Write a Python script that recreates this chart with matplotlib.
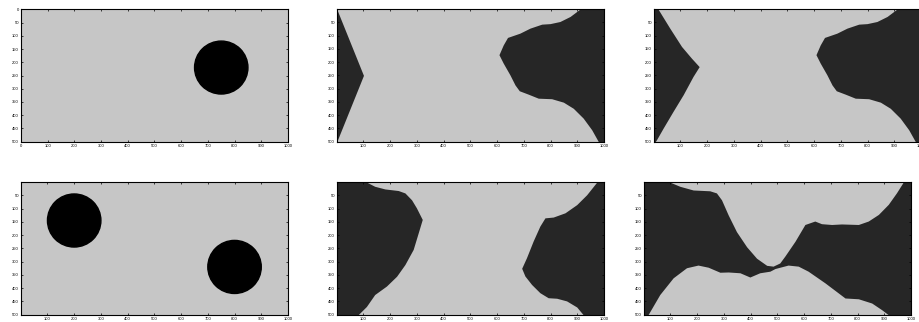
import numpy as np
import matplotlib.pyplot as plt
from matplotlib.patches import Circle

light = '#c6c6c6'
dark = '#262626'

# obstacles (workspace), circles: centre x, centre y, radius
ws1_cx = [750]
ws1_cy = [220]
ws1_r = [100]
ws2_cx = [200, 800]
ws2_cy = [145, 320]
ws2_r = [100, 100]

# panel 2: left wedge and right blob (x as function of y)
p2_left_y = [0, 250, 500]
p2_left_x = [0, 100, 0]
right_y = [0, 28, 47, 55, 57, 72, 91, 107, 135, 172, 204, 248, 286, 308,
           321, 336, 338, 351, 374, 411, 455, 500]
right_x = [910, 873, 835, 798, 767, 723, 685, 639, 623, 607, 623, 648, 667,
           683, 717, 754, 804, 848, 885, 922, 954, 979]

# panel 3: curved left wedge
p3_left_y = [0, 72, 141, 185, 217, 254, 323, 386, 449, 493, 500]
p3_left_x = [16, 60, 104, 141, 170, 147, 110, 72, 35, 10, 5]

# panel 5
p5_left_y = [0, 16, 26, 32, 41, 67, 97, 141, 191, 254, 311, 355, 392, 424,
             469, 500]
p5_left_x = [111, 142, 180, 230, 255, 280, 298, 320, 305, 286, 255, 224,
             186, 142, 111, 80]
p5_right_y = [0, 48, 85, 116, 132, 135, 166, 222, 285, 325, 354, 386, 417,
              436, 438, 448, 471, 500]
p5_right_x = [973, 935, 898, 854, 810, 779, 760, 735, 710, 692, 704, 729,
              760, 791, 823, 860, 898, 922]

# panel 6: free (light) regions, y as function of x
p6_up_x = [97, 135, 185, 247, 272, 291, 316, 347, 385, 422, 460, 484, 509,
           528, 566, 603, 640, 665, 703, 740, 803, 840, 878, 915, 946, 971]
p6_up_y = [0, 16, 30, 33, 41, 67, 124, 187, 244, 287, 314, 317, 305, 279,
           223, 160, 147, 157, 160, 158, 160, 147, 122, 84, 40, 0]
p6_lo_x = [16, 60, 110, 160, 203, 241, 285, 316, 360, 397, 434, 472, 491,
           540, 578, 615, 678, 753, 803, 853, 890, 915]
p6_lo_y = [500, 424, 361, 323, 313, 321, 340, 339, 342, 358, 342, 336, 326,
           313, 317, 336, 380, 437, 440, 456, 481, 500]

plt.rcParams['font.family'] = ['Liberation Sans', 'DejaVu Sans']
fig = plt.figure(figsize=(9.2, 3.22), dpi=100)

W, H = 267 / 920, 132.4 / 322
pos = [[21 / 920, 180.3 / 322], [337 / 920, 180.3 / 322], [654 / 920, 180.3 / 322],
       [21 / 920, 7.3 / 322], [337 / 920, 7.3 / 322], [644 / 920, 7.3 / 322]]
axs = [fig.add_axes([p[0], p[1], W, H]) for p in pos]

def style(ax, zero):
    lo = 0 if zero else 1
    ax.set_xlim(lo, 1000)
    ax.set_ylim(500, lo)
    ax.set_xticks(range(0 if zero else 100, 1001, 100))
    ax.set_yticks(range(0 if zero else 50, 501, 50))
    ax.tick_params(direction='in', length=1.5, width=0.5, labelsize=3,
                   pad=1.5, top=True, right=True)
    for s in ax.spines.values():
        s.set_linewidth(0.8)

# panel 1
ax = axs[0]
ax.set_facecolor(light)
for cx, cy, r in zip(ws1_cx, ws1_cy, ws1_r):
    ax.add_patch(Circle((cx, cy), r, color='black'))
style(ax, True)

# panel 2
ax = axs[1]
ax.set_facecolor(light)
ax.fill_betweenx(p2_left_y, 0, p2_left_x, color=dark, lw=0)
ax.fill_betweenx(right_y, right_x, 1000, color=dark, lw=0)
style(ax, False)

# panel 3
ax = axs[2]
ax.set_facecolor(light)
ax.fill_betweenx(p3_left_y, 0, p3_left_x, color=dark, lw=0)
ax.fill_betweenx(right_y, right_x, 1000, color=dark, lw=0)
style(ax, False)

# panel 4
ax = axs[3]
ax.set_facecolor(light)
for cx, cy, r in zip(ws2_cx, ws2_cy, ws2_r):
    ax.add_patch(Circle((cx, cy), r, color='black'))
style(ax, False)

# panel 5
ax = axs[4]
ax.set_facecolor(light)
ax.fill_betweenx(p5_left_y, 0, p5_left_x, color=dark, lw=0)
ax.fill_betweenx(p5_right_y, p5_right_x, 1000, color=dark, lw=0)
style(ax, False)

# panel 6
ax = axs[5]
ax.set_facecolor(dark)
ax.fill_between(p6_up_x, 0, p6_up_y, color=light, lw=0)
ax.fill_between(p6_lo_x, p6_lo_y, 500, color=light, lw=0)
style(ax, False)

fig.savefig('out.png', dpi=100)
